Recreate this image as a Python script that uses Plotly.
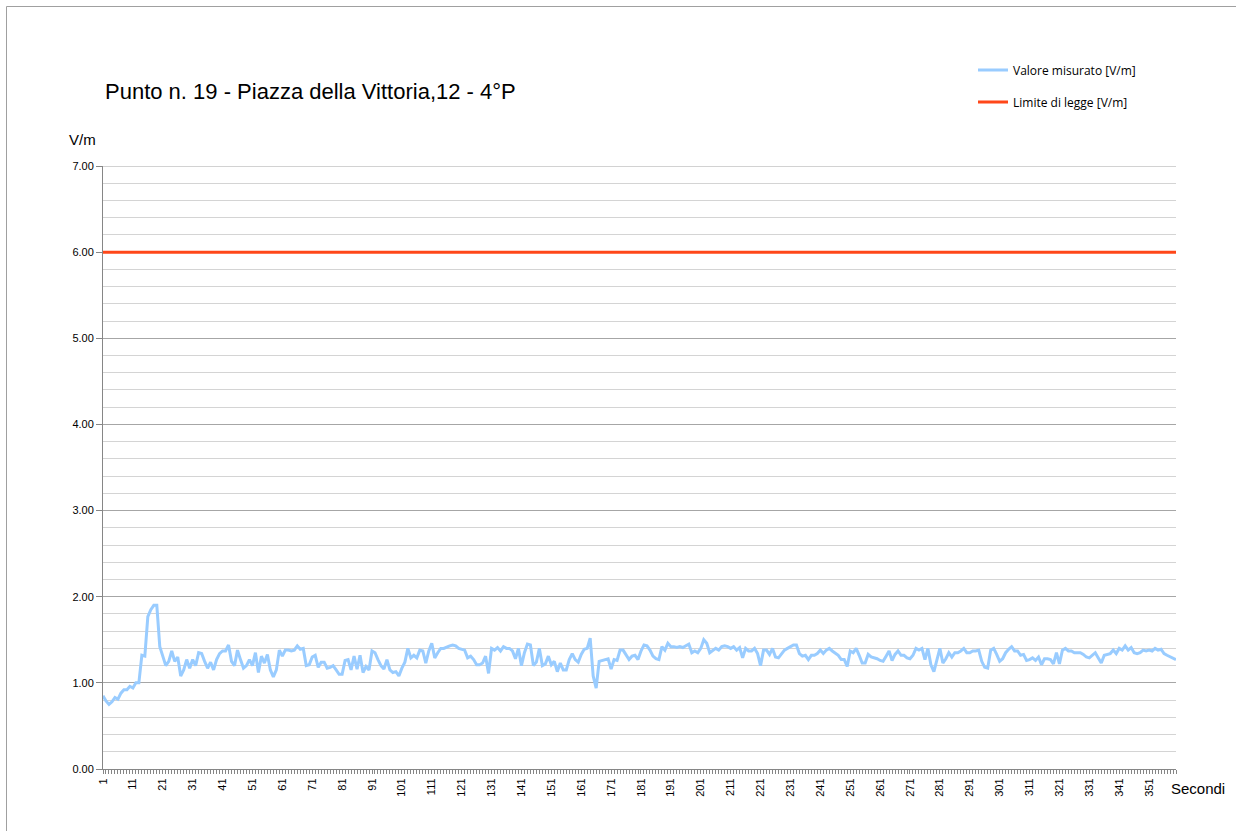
import plotly.graph_objects as go

# Seconds of measurement (one sample per second)
secondi = list(range(1, 361))

# Measured electric field [V/m]
valore_misurato = [
    0.85, 0.79, 0.75, 0.78, 0.83, 0.81, 0.88, 0.92, 0.92, 0.96,
    0.94, 1.00, 1.00, 1.32, 1.31, 1.77, 1.85, 1.90, 1.90, 1.42,
    1.31, 1.20, 1.25, 1.37, 1.25, 1.30, 1.08, 1.15, 1.27, 1.17,
    1.27, 1.20, 1.35, 1.34, 1.25, 1.17, 1.24, 1.15, 1.27, 1.34,
    1.37, 1.37, 1.44, 1.25, 1.20, 1.38, 1.27, 1.17, 1.20, 1.27,
    1.20, 1.35, 1.12, 1.31, 1.23, 1.33, 1.15, 1.07, 1.15, 1.38,
    1.31, 1.38, 1.38, 1.37, 1.38, 1.43, 1.39, 1.40, 1.20, 1.21,
    1.30, 1.32, 1.18, 1.24, 1.24, 1.17, 1.18, 1.20, 1.15, 1.10,
    1.10, 1.26, 1.27, 1.15, 1.31, 1.16, 1.32, 1.12, 1.19, 1.15,
    1.37, 1.35, 1.27, 1.20, 1.16, 1.27, 1.15, 1.12, 1.13, 1.08,
    1.17, 1.24, 1.40, 1.29, 1.32, 1.29, 1.38, 1.37, 1.23, 1.37,
    1.46, 1.29, 1.35, 1.40, 1.40, 1.42, 1.43, 1.44, 1.43, 1.40,
    1.39, 1.38, 1.29, 1.31, 1.27, 1.21, 1.21, 1.23, 1.31, 1.11,
    1.40, 1.38, 1.41, 1.37, 1.42, 1.40, 1.40, 1.37, 1.28, 1.40,
    1.20, 1.35, 1.45, 1.44, 1.20, 1.24, 1.40, 1.20, 1.22, 1.31,
    1.21, 1.25, 1.13, 1.23, 1.15, 1.15, 1.27, 1.34, 1.27, 1.24,
    1.33, 1.39, 1.40, 1.52, 1.08, 0.94, 1.25, 1.26, 1.27, 1.28,
    1.16, 1.27, 1.26, 1.38, 1.38, 1.33, 1.27, 1.31, 1.32, 1.27,
    1.37, 1.44, 1.43, 1.38, 1.31, 1.28, 1.27, 1.42, 1.38, 1.46,
    1.42, 1.42, 1.41, 1.42, 1.41, 1.43, 1.45, 1.35, 1.37, 1.35,
    1.40, 1.50, 1.46, 1.35, 1.38, 1.40, 1.38, 1.42, 1.43, 1.42,
    1.40, 1.42, 1.38, 1.41, 1.29, 1.40, 1.37, 1.37, 1.40, 1.34,
    1.20, 1.38, 1.38, 1.33, 1.40, 1.30, 1.29, 1.33, 1.38, 1.40,
    1.42, 1.44, 1.44, 1.34, 1.31, 1.32, 1.27, 1.32, 1.32, 1.34,
    1.38, 1.34, 1.38, 1.40, 1.37, 1.34, 1.32, 1.27, 1.27, 1.19,
    1.37, 1.35, 1.40, 1.32, 1.23, 1.23, 1.33, 1.30, 1.29, 1.28,
    1.26, 1.25, 1.31, 1.37, 1.26, 1.33, 1.37, 1.32, 1.32, 1.29,
    1.28, 1.32, 1.40, 1.38, 1.40, 1.27, 1.40, 1.21, 1.13, 1.27,
    1.40, 1.23, 1.28, 1.35, 1.30, 1.35, 1.35, 1.37, 1.40, 1.35,
    1.35, 1.37, 1.37, 1.38, 1.25, 1.18, 1.17, 1.38, 1.40, 1.33,
    1.25, 1.28, 1.35, 1.39, 1.42, 1.37, 1.37, 1.32, 1.33, 1.26,
    1.27, 1.29, 1.26, 1.30, 1.21, 1.28, 1.28, 1.27, 1.22, 1.35,
    1.22, 1.38, 1.40, 1.37, 1.37, 1.35, 1.35, 1.35, 1.33, 1.30,
    1.29, 1.32, 1.35, 1.29, 1.23, 1.32, 1.33, 1.34, 1.38, 1.34,
    1.40, 1.38, 1.43, 1.38, 1.41, 1.35, 1.34, 1.35, 1.38, 1.37,
    1.38, 1.37, 1.40, 1.38, 1.39, 1.34, 1.32, 1.30, 1.28, 1.27,
]

# Legal limit [V/m]
limite_valore = 6.0
limite_di_legge = [limite_valore] * len(secondi)

x_tick_vals = list(range(1, 361, 10))
x_tick_text = [str(v) for v in x_tick_vals]
y_tick_vals = [0, 1, 2, 3, 4, 5, 6, 7]
y_tick_text = [f"{v:.2f}" for v in y_tick_vals]

titolo = "Punto n. 19 - Piazza della Vittoria,12 - 4°P"
etichetta_y = "V/m"
etichetta_x = "Secondi"

COL_MISURA = "#99ccff"
COL_LIMITE = "#ff4719"
FONT = "Liberation Sans, Arial, sans-serif"
LEG_FONT = "Open Sans, Liberation Sans, sans-serif"

W, H = 1236, 831
ML, MR, MT, MB = 103, 60, 166, 62
PW, PH = W - ML - MR, H - MT - MB

def px_x(p):
    return (p - ML) / PW

def px_y(p):
    return (H - MB - p) / PH

fig = go.Figure()
fig.add_trace(go.Scatter(
    x=secondi, y=valore_misurato, mode="lines",
    name="Valore misurato [V/m]",
    line=dict(color=COL_MISURA, width=3),
    legend="legend",
))
fig.add_trace(go.Scatter(
    x=secondi, y=limite_di_legge, mode="lines",
    name="Limite di legge [V/m]",
    line=dict(color=COL_LIMITE, width=3),
    legend="legend2",
))

leg_common = dict(
    font=dict(family=LEG_FONT, size=12, color="#000000"),
    bgcolor="rgba(0,0,0,0)",
    xanchor="left", yanchor="middle",
    itemwidth=30,
)

fig.update_layout(
    width=W, height=H,
    margin=dict(l=ML, r=MR, t=MT, b=MB),
    paper_bgcolor="white",
    plot_bgcolor="white",
    showlegend=True,
    legend=dict(x=px_x(973), y=px_y(70), **leg_common),
    legend2=dict(x=px_x(973), y=px_y(102), **leg_common),
    xaxis=dict(
        range=[1, 360],
        tickmode="array", tickvals=x_tick_vals, ticktext=x_tick_text,
        tickangle=-90,
        tickfont=dict(family=FONT, size=11, color="#000000"),
        showgrid=False, zeroline=False,
        showline=True, linecolor="#868686", linewidth=1,
        ticks="outside", ticklen=4, tickcolor="#868686", tickwidth=1,
        minor=dict(dtick=1, tick0=1, ticks="outside", ticklen=4,
                   tickcolor="#868686", tickwidth=1, showgrid=False),
    ),
    yaxis=dict(
        range=[0, 7],
        tickmode="array", tickvals=y_tick_vals, ticktext=y_tick_text,
        tickfont=dict(family=FONT, size=11, color="#000000"),
        showgrid=True, gridcolor="#a6a6a6", gridwidth=1,
        zeroline=False,
        showline=True, linecolor="#868686", linewidth=1,
        ticks="outside", ticklen=6, tickcolor="#868686", tickwidth=1,
        minor=dict(dtick=0.2, tick0=0, showgrid=True,
                   gridcolor="#d4d4d4", gridwidth=1),
    ),
    annotations=[
        dict(text=titolo, xref="paper", yref="paper",
             x=px_x(103), y=px_y(92), xanchor="left", yanchor="middle",
             showarrow=False, font=dict(family=FONT, size=22, color="#000000")),
        dict(text=etichetta_y, xref="paper", yref="paper",
             x=px_x(67), y=px_y(139), xanchor="left", yanchor="middle",
             showarrow=False, font=dict(family=FONT, size=15, color="#000000")),
        dict(text=etichetta_x, xref="paper", yref="paper",
             x=px_x(1169), y=px_y(788), xanchor="left", yanchor="middle",
             showarrow=False, font=dict(family=FONT, size=15, color="#000000")),
    ],
    shapes=[
        dict(type="rect", xref="paper", yref="paper",
             x0=px_x(6.5), x1=px_x(1245), y0=px_y(845), y1=px_y(6.5),
             line=dict(color="#a0a0a0", width=1), layer="below"),
        # top gridline at the upper end of the value axis
        dict(type="line", xref="paper", yref="y",
             x0=0, x1=1, y0=7, y1=7,
             line=dict(color="#a6a6a6", width=1), layer="below"),
    ],
)

fig.write_html("out.html")
